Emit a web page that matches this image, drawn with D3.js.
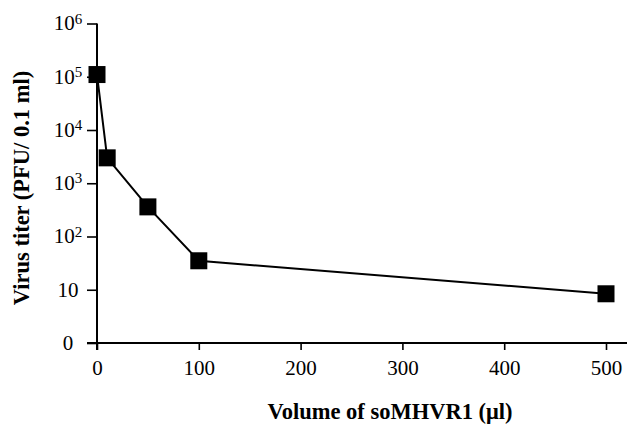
<!DOCTYPE html>
<html>
<head>
<meta charset="utf-8">
<script src="https://cdn.jsdelivr.net/npm/d3@7"></script>
<style>
  body { margin: 0; background: #fff; }
  svg text { font-family: "Liberation Serif", "Times New Roman", serif; fill: #000; }
</style>
</head>
<body>
<div id="chart"></div>
<script>
// data
const volumes = [0, 10, 50, 100, 500];
const titers = [1.1e5, 3000, 360, 35, 8.4];
const xTicks = [0, 100, 200, 300, 400, 500];
const yTicks = [1, 10, 1e2, 1e3, 1e4, 1e5, 1e6];
const yTickLabels = ["0", "10", "10|2", "10|3", "10|4", "10|5", "10|6"];

const width = 628, height = 425;

const svg = d3.select("#chart")
    .append("svg")
    .attr("width", width)
    .attr("height", height);

// scales
const xScale = d3.scaleLinear()
    .domain([0, 500])
    .range([97, 606]);
const yScale = d3.scaleLog()
    .domain([1, 1e6])
    .range([343, 23.5]);

const points = volumes.map((v, i) => ({ x: v, y: titers[i] }));

// x axis
const xAxis = svg.append("g")
    .attr("transform", `translate(0, ${yScale(1)})`)
    .call(d3.axisBottom(xScale).tickValues(xTicks).tickSize(7).tickSizeOuter(0).tickPadding(10));
xAxis.select(".domain").remove();
xAxis.selectAll(".tick line").attr("stroke-width", 1.6);
xAxis.selectAll(".tick text")
    .style("font-size", "21px")
    .attr("fill", "#000");
// axis line runs a bit past the data range on both sides
xAxis.append("line")
    .attr("x1", 87).attr("x2", 627)
    .attr("stroke", "#000").attr("stroke-width", 2);

// y axis
const yAxis = svg.append("g")
    .attr("transform", `translate(${xScale(0)}, 0)`)
    .call(d3.axisLeft(yScale).tickValues(yTicks).tickSize(10).tickSizeOuter(0).tickFormat(""));
yAxis.select(".domain").remove();
yAxis.selectAll(".tick line").attr("stroke-width", 1.6);
yAxis.append("line")
    .attr("y1", yScale(1e6)).attr("y2", yScale(1) + 7)
    .attr("stroke", "#000").attr("stroke-width", 2);

// tick labels with superscript exponents
yAxis.selectAll(".tick").each(function (d, i) {
    const parts = yTickLabels[i].split("|");
    const t = d3.select(this).select("text")
        .attr("x", -29)
        .attr("dy", "0.3em")
        .style("text-anchor", "middle")
        .style("font-size", "21px")
        .attr("fill", "#000");
    t.append("tspan").text(parts[0]);
    if (parts[1]) {
        t.append("tspan")
            .attr("dy", "-0.45em")
            .style("font-size", "15px")
            .text(parts[1]);
    }
});

// line
const line = d3.line()
    .x(d => xScale(d.x))
    .y(d => yScale(d.y));

svg.append("path")
    .datum(points)
    .attr("fill", "none")
    .attr("stroke", "#000")
    .attr("stroke-width", 2)
    .attr("d", line);

// square markers
const size = 17;
svg.selectAll(".pt")
    .data(points)
    .enter()
    .append("rect")
    .attr("class", "pt")
    .attr("x", d => xScale(d.x) - size / 2)
    .attr("y", d => yScale(d.y) - size / 2)
    .attr("width", size)
    .attr("height", size)
    .attr("fill", "#000");

// axis titles
svg.append("text")
    .attr("transform", "translate(29, 188) rotate(-90)")
    .style("text-anchor", "middle")
    .style("font-size", "22.5px")
    .style("font-weight", "bold")
    .text("Virus titer (PFU/ 0.1 ml)");

svg.append("text")
    .attr("x", 390)
    .attr("y", 419)
    .style("text-anchor", "middle")
    .style("font-size", "22.5px")
    .style("font-weight", "bold")
    .text("Volume of soMHVR1 (μl)");
</script>
</body>
</html>
